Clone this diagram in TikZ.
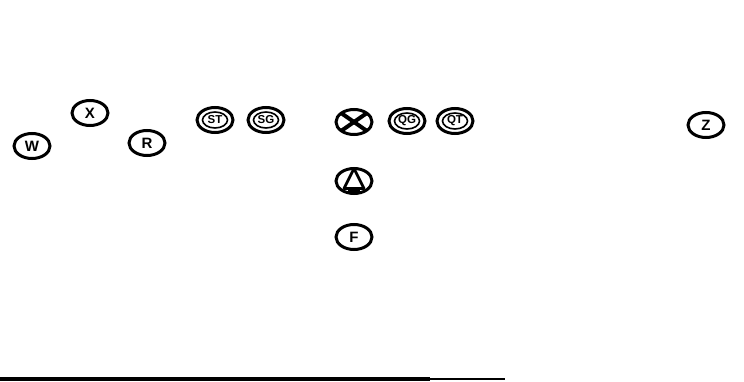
\documentclass[tikz,border=0pt]{standalone}
\usepackage{fontspec}
\setsansfont{Liberation Sans}
\usetikzlibrary{positioning,shapes.geometric}

\begin{document}
\begin{tikzpicture}[
  x=1pt, y=-1pt,
  node distance=28pt,
  player/.style={ellipse, draw, line width=3pt, minimum width=36pt,
                 minimum height=25pt, inner sep=0pt,
                 font=\fontsize{15}{15}\selectfont\sffamily\bfseries},
  lineman/.style={player, font=\fontsize{11.5}{11.5}\selectfont\sffamily\bfseries,
                  path picture={\draw[line width=1.6pt]
                    (path picture bounding box.center) ellipse (12.5pt and 8pt);}},
  ballx/.style={player, path picture={
                  \draw[line width=4pt] (path picture bounding box.north west)
                    -- (path picture bounding box.south east);
                  \draw[line width=4pt] (path picture bounding box.south west)
                    -- (path picture bounding box.north east);}},
  tri/.style={player, path picture={
                  \draw[line width=2.8pt, line join=round]
                    (path picture bounding box.north)
                    -- ([xshift=-10pt, yshift=5pt]path picture bounding box.south)
                    -- ([xshift=10pt, yshift=5pt]path picture bounding box.south)
                    -- cycle;
                  \draw[line width=1.6pt] ([xshift=-6pt, yshift=2.5pt]path picture bounding box.south)
                    -- ([xshift=6pt, yshift=2.5pt]path picture bounding box.south);}},
  base/.style={line width=3.5pt}
]
  \useasboundingbox (0,0) rectangle (744,382);

  % offense
  \node[player] (x) at (90,113) {X};
  \node[player] (w) at (32,146) {W};
  \node[player] (r) at (147,143) {R};
  \node[lineman] (st) at (215,120) {ST};
  \node[lineman] (sg) at (266,120) {SG};
  \node[ballx] (ball) at (354,122) {};
  \node[lineman] (qg) at (407,121) {QG};
  \node[lineman] (qt) at (455,121) {QT};
  \node[player] (z) at (706,125) {Z};
  \node[tri, below=31pt of ball] (ctr) {};
  \node[player, below=28pt of ctr] (f) {F};

  % bottom rule
  \coordinate (l0) at (0,379);
  \coordinate (l1) at (430,379);
  \coordinate (l2) at (505,379);
  \draw[base] (l0) -- (l1);
  \draw[line width=1.5pt] (l1) -- (l2);
\end{tikzpicture}
\end{document}
